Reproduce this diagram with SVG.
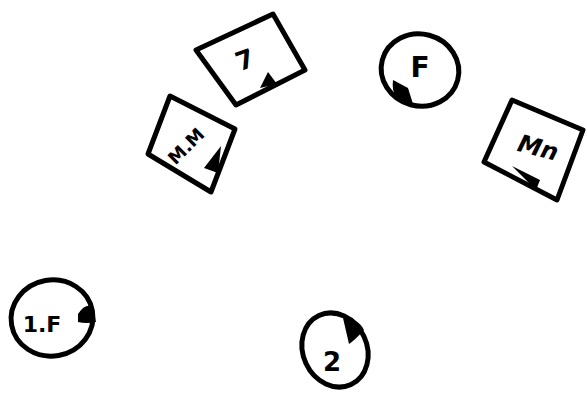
<svg xmlns="http://www.w3.org/2000/svg" width="586" height="400" viewBox="0 0 586 400">
<style>
.box{fill:#fff;stroke:#000;stroke-width:5;stroke-linejoin:round}
.mark{fill:#000;stroke:none}
.lbl{font-family:"DejaVu Sans",sans-serif;font-weight:bold;fill:#000;text-anchor:middle;dominant-baseline:central}
</style>
<rect width="586" height="400" fill="#fff"/>
<g id="connectors"></g>
<g id="n7">
<polygon class="box" points="196,50 273,14 305,70 236,105"/>
<polygon class="mark" points="268,72 260,88 277,84"/>
<text class="lbl" x="245" y="60" font-size="26" transform="rotate(-20 245 60)">7</text>
</g>
<g id="nMM">
<polygon class="box" points="170,96 235,129 211,192 148,154"/>
<polygon class="mark" points="221,146 204,168 218,173"/>
<text class="lbl" x="186" y="146" font-size="18" transform="rotate(-45 186 146)">M.M</text>
</g>
<g id="nF">
<ellipse class="box" cx="420" cy="70" rx="39" ry="36" transform="rotate(15 420 70)"/>
<path class="mark" d="M393,80 Q390,103 413,104 L408,88 Z"/>
<text class="lbl" x="420" y="67" font-size="28">F</text>
</g>
<g id="nMn">
<polygon class="box" points="512,100 583,130 557,200 484,162"/>
<path class="mark" d="M512,166 L540,180 L536,190 Z"/>
<text class="lbl" x="538" y="148" font-size="24" font-style="italic" transform="rotate(15 538 148)">Mn</text>
</g>
<g id="n1F">
<ellipse class="box" cx="52" cy="318" rx="41" ry="38" transform="rotate(-10 52 318)"/>
<path class="mark" d="M78,314 Q84,304 92,306 L96,322 Q86,324 78,322 Z"/>
<text class="lbl" x="42" y="324" font-size="22">1.F</text>
</g>
<g id="n2">
<ellipse class="box" cx="335" cy="350" rx="32" ry="38" transform="rotate(-25 335 350)"/>
<path class="mark" d="M343,318 Q358,318 364,330 Q355,340 349,344 Z"/>
<text class="lbl" x="332" y="362" font-size="26">2</text>
</g>
</svg>
